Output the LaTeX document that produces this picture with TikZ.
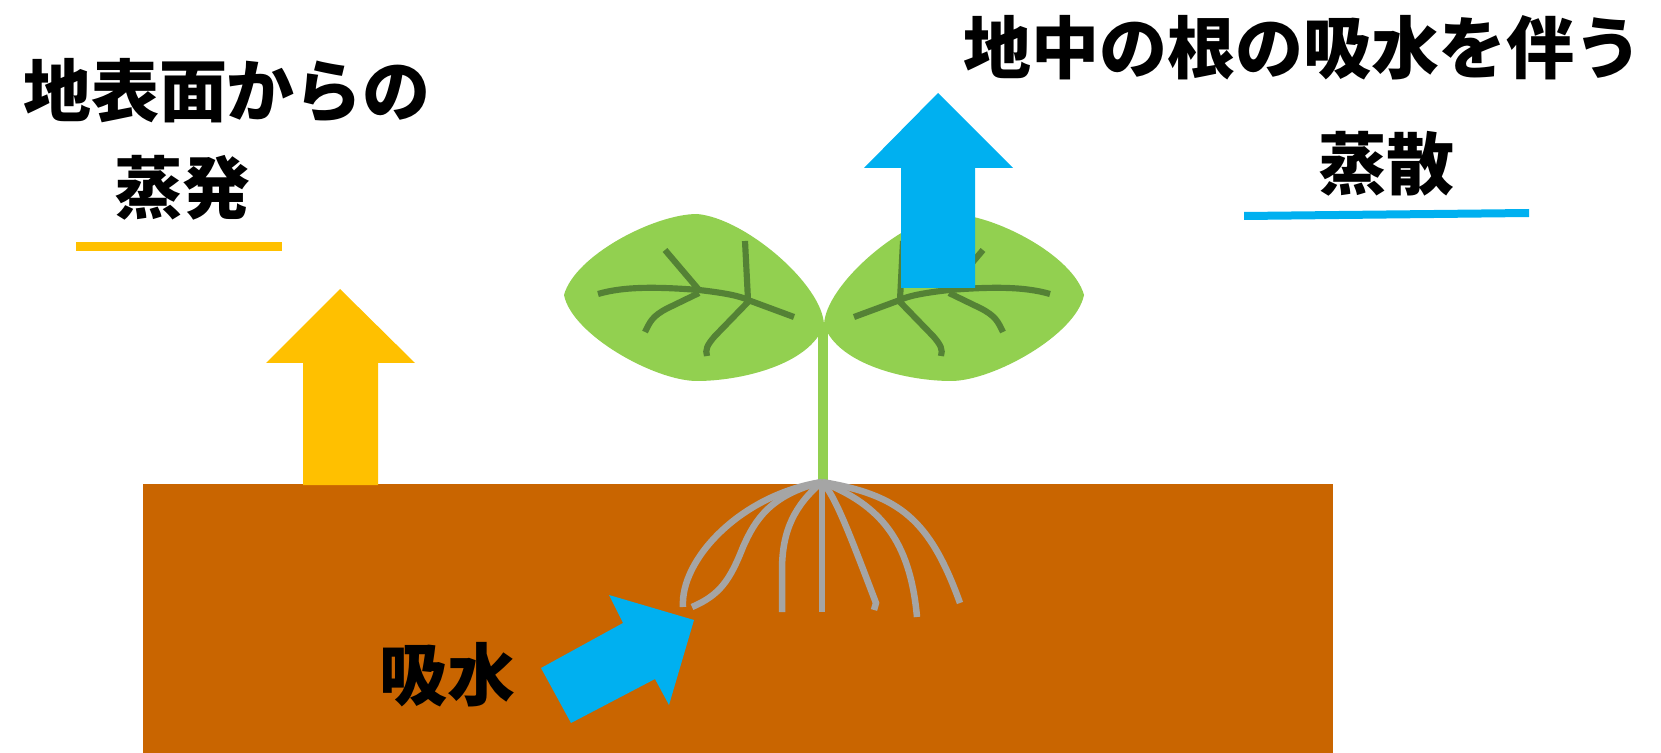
\documentclass[tikz,border=0pt]{standalone}
\usepackage{fontspec}
\newfontfamily\jpfont{Noto Sans CJK JP}
\usepackage{tikz}
\definecolor{soilbrown}{RGB}{201,101,0}
\definecolor{leafgreen}{RGB}{146,208,80}
\definecolor{veingreen}{RGB}{84,130,53}
\definecolor{rootgray}{RGB}{165,165,165}
\definecolor{waterblue}{RGB}{0,176,240}
\definecolor{evapyellow}{RGB}{255,192,0}
\tikzset{
  jplabel/.style={inner sep=0pt, font=\jpfont\bfseries\fontsize{38.7pt}{44pt}\selectfont},
  vein/.style={draw=veingreen, line width=3.5pt},
  root/.style={draw=rootgray, line width=3.7pt},
  bigarrow/.style={fill=#1, draw=none},
}
% one seed leaf with its veins, tip pointing right at the stem
\newcommand{\cotyledon}{%
  \fill[leafgreen] (564,295) .. controls (575,255) and (655,214) .. (697,214)
    .. controls (745,218) and (823,285) .. (824,325)
    .. controls (810,365) and (740,381) .. (697,381)
    .. controls (655,381) and (572,335) .. cycle;
  \draw[vein] (598,294) .. controls (625,286) and (660,287) .. (699,290)
    .. controls (725,293) and (740,296) .. (748,300) -- (794,317);
  \draw[vein] (699,290) -- (665,250);
  \draw[vein] (699,293) -- (668,308) .. controls (652,316) and (650,322) .. (645,332);
  \draw[vein] (748,300) -- (745,241);
  \draw[vein] (748,302) -- (715,336) .. controls (707,345) and (705,350) .. (707,356);
}

\begin{document}
\begin{tikzpicture}[x=0.02cm, y=-0.02cm]
  \useasboundingbox (0,0) rectangle (1661,753);

  % ── soil ──────────────────────────────────────────────
  \fill[soilbrown] (143,484) rectangle (1333,753);

  % ── seedling: stem, roots, leaves ─────────────────────
  \fill[leafgreen] (818,323) rectangle (828,486);
  \coordinate (rootbase) at (822,482);
  \draw[root] (rootbase) .. controls (740,495) and (680,560) .. (683,607);
  \draw[root] (rootbase) .. controls (770,495) and (755,520) .. (743,547)
    .. controls (730,580) and (720,595) .. (692,607);
  \draw[root] (rootbase) .. controls (795,505) and (782,530) .. (782,570) -- (782,612);
  \draw[root] (rootbase) -- (822,612);
  \draw[root] (rootbase) .. controls (835,495) and (850,535) .. (876,603) -- (874,610);
  \draw[root] (rootbase) .. controls (880,505) and (910,540) .. (917,617);
  \draw[root] (rootbase) .. controls (900,495) and (930,520) .. (960,603);
  \cotyledon
  \begin{scope}[shift={(1648,0)}, xscale=-1]
    \cotyledon
  \end{scope}

  % ── arrows ────────────────────────────────────────────
  \fill[bigarrow=waterblue] (901,288) -- (901,168) -- (864,168) -- (938,93)
    -- (1013,168) -- (975,168) -- (975,288) -- cycle;
  \fill[bigarrow=evapyellow] (303,485) -- (303,363) -- (266,363) -- (340,289)
    -- (415,363) -- (378,363) -- (378,485) -- cycle;
  \fill[bigarrow=waterblue] (541,668) -- (623,623) -- (609,595) -- (694,620)
    -- (669,705) -- (655,679) -- (571,723) -- cycle;

  % ── labels ────────────────────────────────────────────
  \node[jplabel] (evaptop) at (227,91) {地表面からの};
  \node[jplabel] (evapword) at (182,188) {蒸発};
  \fill[evapyellow] (76,242) rectangle (282,251);
  \node[jplabel] (transtop) at (1303,48) {地中の根の吸水を伴う};
  \node[jplabel] (transword) at (1386,164) {蒸散};
  \fill[waterblue] (1244,212) -- (1529,209) -- (1529,217) -- (1244,220) -- cycle;
  \node[jplabel] (uptake) at (447,675) {吸水};
\end{tikzpicture}
\end{document}
